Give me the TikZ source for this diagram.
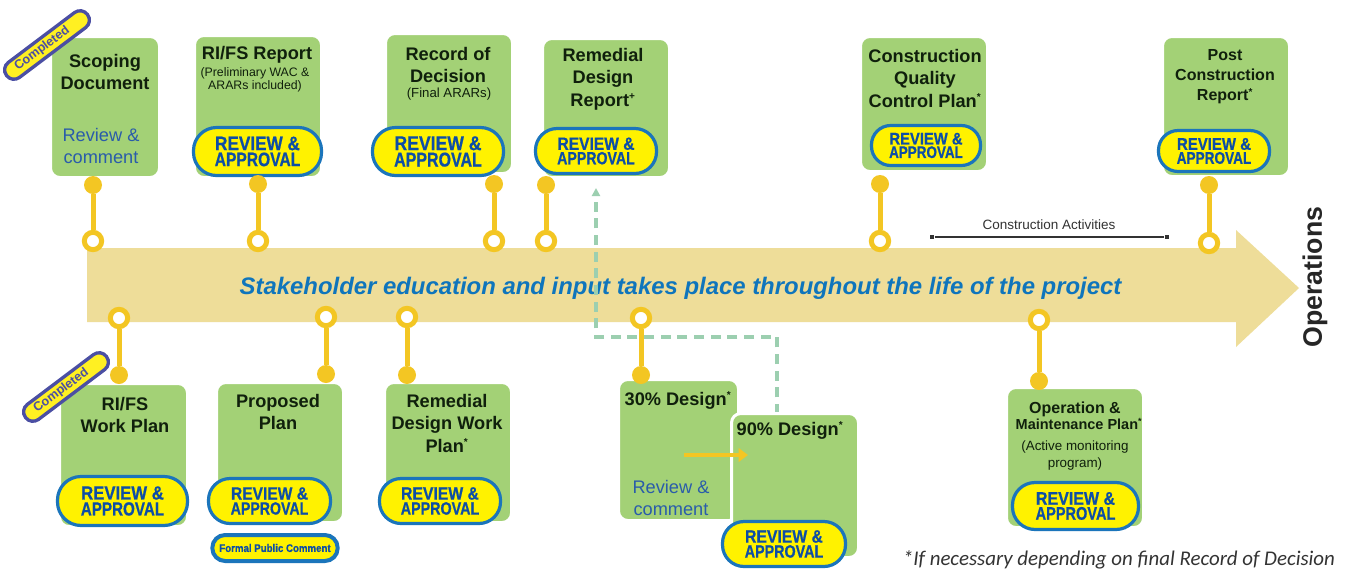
\documentclass[tikz,border=0pt]{standalone}
\usepackage{fontspec}
\setmainfont{Liberation Sans}
\newfontfamily\pillfont[FakeStretch=0.88,FakeBold=0.6]{Liberation Sans}
\newfontfamily\pillnarrow[FakeStretch=0.80,FakeBold=0.6]{Liberation Sans}
\newfontfamily\notefont{Carlito}
\usetikzlibrary{arrows.meta}
\definecolor{boxgreen}{HTML}{A3D176}
\definecolor{linkyellow}{HTML}{F3C623}
\definecolor{bandtan}{HTML}{EEDD99}
\definecolor{pillyellow}{HTML}{FFF200}
\definecolor{pillblue}{HTML}{1B75BB}
\definecolor{pilltext}{HTML}{0D4EA6}
\definecolor{tagline}{HTML}{4B4FA3}
\definecolor{tagfill}{HTML}{FFF022}
\definecolor{revblue}{HTML}{2A5CAA}
\definecolor{bandblue}{HTML}{0F75BC}
\definecolor{dashgreen}{HTML}{9CCFB0}
\definecolor{inktext}{HTML}{10200C}
\newcommand\fpx[2]{\fontsize{\the\dimexpr #1pt*3/4\relax}{\the\dimexpr #2pt*3/4\relax}\selectfont}
\newcommand\astx{\textsuperscript{\fpx{10}{10}*}}
\tikzset{
  x=0.75pt,y=-0.75pt,
  greenbox/.style={fill=boxgreen,draw=white,line width=2.25pt,rounded corners=7pt,inner sep=0pt},
  pillbox/.style={fill=pillyellow,draw=pillblue,line width=2.4pt,inner sep=0pt,align=center,text=pilltext},
  tagbox/.style={fill=tagfill,draw=tagline,line width=2.5pt,inner sep=0pt,text=tagline,rotate=37,minimum width=76pt,minimum height=14pt,rounded corners=6.9pt,font=\bfseries\fpx{12.6}{13}},
  title/.style={inner sep=0pt,align=center,text=inktext,font=\bfseries\fpx{18.2}{22.5}},
  sub/.style={inner sep=0pt,align=center,text=inktext,font=\fpx{12.3}{13}},
  revnote/.style={inner sep=0pt,align=center,text=revblue,font=\fpx{18.2}{22}},
  ringdot/.style={circle,fill=white,draw=linkyellow,line width=3.75pt,minimum size=13pt,inner sep=0pt},
  enddot/.style={circle,fill=linkyellow,minimum size=13.5pt,inner sep=0pt},
  link/.style={draw=linkyellow,line width=3.75pt},
  endsq/.style={fill=black!80,minimum size=3.6pt,inner sep=0pt},
}
\newcommand\gbox[5]{\node[greenbox,minimum width={(#4-#2+3)*0.75pt},minimum height={(#5-#3+3)*0.75pt}] (#1) at ({(#2+#4)/2},{(#3+#5)/2}) {};}
\newcommand\pill[7]{\node[pillbox,font=\bfseries\fpx{#6}{#7},minimum width={(#4-#2-3)*0.75pt},minimum height={(#5-#3-3)*0.75pt},rounded corners={(#5-#3-3)*0.36pt}] (#1) at ({(#2+#4)/2},{(#3+#5)/2}) {{\pillfont\bfseries REVIEW \&}\\{\pillnarrow\bfseries APPROVAL}};}
\newcommand\conn[4]{\node[ringdot] (r#1) at (#2,#3) {};\node[enddot] (d#1) at (#2,#4) {};\draw[link] (r#1) -- (d#1);}
\begin{document}
\begin{tikzpicture}
\useasboundingbox (0,0) rectangle (1350,572);
\fill[white] (0,0) rectangle (1350,572);
% band
\fill[bandtan] (87,248) -- (1236,248) -- (1236,230) -- (1299,288) -- (1236,347) -- (1236,322) -- (87,322) -- cycle;
\node[inner sep=0pt,text=bandblue,font=\bfseries\itshape\fpx{23.9}{24}] (bandtext) at (680.5,288) {Stakeholder education and input takes place throughout the life of the project};
% dashed
\coordinate (dA) at (777,414);
\coordinate (dB) at (777,337);
\coordinate (dC) at (596,337);
\coordinate (dD) at (596,188);
\draw[dashgreen,line width=2.6pt,dash pattern=on 7.5pt off 5pt,-{Triangle[length=6pt,width=6pt]}] (dA) -- (dB) -- (dC) -- (dD);
% top boxes
\gbox{b1}{52}{38}{158}{176}
\node[title] (t1) at (105,72) {Scoping\\Document};
\node[revnote] (t1r) at (101,146) {Review \&\\comment};
\gbox{b2}{196}{37}{320}{176}
\node[title] (t2) at (257,55) {RI/FS Report};
\node[sub] (t2s) at (255,80) {(Preliminary WAC \&\\ARARs included)};
\pill{p2}{192}{126}{323}{177}{19.5}{16}
\gbox{b3}{387}{35}{511}{172}
\node[title] (t3) at (448,65) {Record of\\Decision};
\node[sub,font=\fpx{13.2}{14}] (t3s) at (449,94) {(Final ARARs)};
\pill{p3}{371}{126}{505}{177}{20}{16.4}
\gbox{b4}{544}{40}{668}{176}
\node[title] (t4) at (603,79) {Remedial\\Design\\Report\textsuperscript{\fpx{10}{10}+}};
\pill{p4}{534}{127}{658}{175}{17.7}{14.5}
\gbox{b5}{862}{38}{986}{170}
\node[title] (t5) at (925,78) {Construction\\Quality\\Control Plan\astx};
\pill{p5}{870}{124}{982}{167}{16.8}{13.5}
\gbox{b6}{1164}{38}{1288}{175}
\node[title,font=\bfseries\fpx{16}{20}] (t6) at (1225,77) {Post\\Construction\\Report\astx};
\pill{p6}{1157}{129}{1271}{173}{17}{14}
% bottom boxes
\gbox{b7}{61}{385}{186}{525}
\node[title] (t7) at (125,415) {RI/FS\\Work Plan};
\pill{p7}{56}{475}{189}{527}{19}{16}
\gbox{b8}{218}{384}{342}{521}
\node[title] (t8) at (278,412) {Proposed\\Plan};
\pill{p8}{207}{477}{332}{525}{17.7}{15}
\node[pillbox,line width=3pt,minimum width=94pt,minimum height=19.5pt,rounded corners=9.6pt,font=\pillfont\bfseries\fpx{11}{11}] (p8b) at (275,548) {Formal Public Comment};
\gbox{b9}{386}{384}{510}{521}
\node[title] (t9) at (447,423) {Remedial\\Design Work\\Plan\astx};
\pill{p9}{378}{477}{502}{525}{17.9}{15}
% design boxes
\gbox{b10}{620}{381}{737}{519}
\node[title] (t10) at (678,400) {30\% Design\astx};
\node[revnote] (t10r) at (671,498) {Review \&\\comment};
\gbox{b11}{733}{415}{857}{556}
\node[title] (t11) at (790,430) {90\% Design\astx};
\pill{p11}{721}{520}{847}{568}{17.9}{15}
\coordinate (aA) at (684,455);
\coordinate (aB) at (748,455);
\draw[linkyellow,line width=3pt,-{Triangle[length=7pt,width=10pt]}] (aA) -- (aB);
% O&M
\gbox{b12}{1008}{389}{1142}{526}
\node[title,font=\bfseries\fpx{16}{16}] (t12) at (1075,409) {Operation \&};
\node[title,font=\bfseries\fpx{14.5}{15}] (t12b) at (1079,424) {Maintenance Plan\textsuperscript{\fpx{9}{9}*}};
\node[sub,font=\fpx{13.4}{17}] (t12s) at (1075,456) {(Active monitoring\\program)};
\pill{p12}{1011}{481}{1140}{531}{18.2}{15}
% connectors
\conn{a}{93}{241}{185}
\conn{b}{258}{241}{184}
\conn{c}{494}{241}{184}
\conn{e}{546}{241}{185}
\conn{f}{880}{241}{184}
\conn{g}{1209}{243}{185}
\conn{h}{119}{318}{375}
\conn{i}{326}{317}{374}
\conn{j}{407}{317}{375}
\conn{k}{641}{318}{375}
\conn{l}{1039}{320}{381}
% tags
\node[tagbox] (tag1) at (47,45) {Completed\hspace*{9pt}};
\node[tagbox] (tag2) at (66,387) {Completed\hspace*{9pt}};
% construction activities
\node[endsq] (caS) at (932,237) {};
\node[endsq] (caE) at (1167,237) {};
\draw[black!80,line width=1.2pt] (caS) -- (caE);
\node[inner sep=0pt,text=black!80,font=\fpx{13.5}{14}] (caT) at (1049,225) {Construction Activities};
% operations
\node[inner sep=0pt,rotate=90,text=black!85,font=\bfseries\fpx{26.7}{27}] (ops) at (1315,277) {Operations};
% footnote
\node[inner sep=0pt,text=black!80,font=\notefont\itshape\fpx{20.9}{22}] (note) at (1119,560) {*If necessary depending on final Record of Decision};
\end{tikzpicture}
\end{document}
